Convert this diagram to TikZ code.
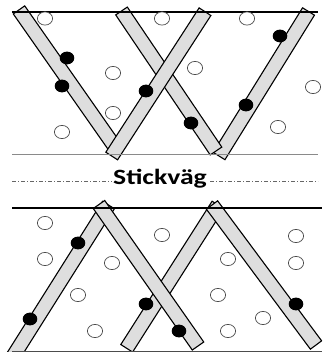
\documentclass[tikz,border=0pt]{standalone}
\usepackage{fontspec}
\usepackage{graphicx}
\newfontfamily\labelfont{Carlito}
\usetikzlibrary{calc}
\definecolor{stripgray}{HTML}{DEDEDE}
\definecolor{ringgray}{HTML}{4A4A4A}
\definecolor{rulegray}{HTML}{8A8A8A}
\tikzset{
  bar/.style={draw=black, line width=1.1pt, fill=stripgray, line join=miter},
  hole/.style={draw=ringgray, line width=0.7pt, fill=white},
  dot/.style={fill=black},
  edgeline/.style={draw=black, line width=1.1pt},
  floorline/.style={draw=rulegray, line width=0.9pt},
  roadline/.style={draw=black!60, line width=0.8pt, dash pattern=on 4pt off 2pt on 1pt off 2pt},
}
% a bar of width 2*7 along the centre line #1 -- #2
\newcommand\stripbar[2]{%
  \path[bar] ($(#1)!7pt!90:(#2)$) -- ($(#1)!7pt!-90:(#2)$)
    -- ($(#2)!7pt!90:(#1)$) -- ($(#2)!7pt!-90:(#1)$) -- cycle;}
\begin{document}
\begin{tikzpicture}[x=1pt, y=-1pt]
\useasboundingbox (0,0) rectangle (322,352);
\clip (0,0) rectangle (322,352);
\fill[white] (0,0) rectangle (322,352);

% upper field: a W of four bars
\coordinate (s1a) at (19,9.9);    \coordinate (s1b) at (115,147);
\coordinate (s2a) at (111.7,156); \coordinate (s2b) at (205,11.7);
\coordinate (s3a) at (121.5,11);  \coordinate (s3b) at (216,151);
\coordinate (s4a) at (219,156);   \coordinate (s4b) at (308.5,11.5);
\stripbar{s1a}{s1b}
\stripbar{s4a}{s4b}
\stripbar{s3a}{s3b}
\stripbar{s2a}{s2b}

\coordinate (u1) at (12,12);  \coordinate (u2) at (318,12);
\coordinate (v1) at (12,154); \coordinate (v2) at (318,154);
\draw[edgeline] (u1) -- (u2);
\draw[floorline] (v1) -- (v2);

\foreach \x/\y in {45/18.5,162/18.5,247/18.5,113/73,195/68,313/87,113/113,62/132,278/127}
  {\path[hole] (\x,\y) ellipse [x radius=7.6pt, y radius=6.6pt];}
\foreach \x/\y in {67/58,62/86,146/91,191/123,246/105,280/36}
  {\path[dot] (\x,\y) ellipse [x radius=7.3pt, y radius=6.4pt];}

% road marking
\coordinate (r1) at (12,181); \coordinate (r2) at (318,181);
\draw[roadline] (r1) -- (r2);
\node[fill=white, inner sep=1pt, anchor=base] (road) at (160,185)
  {\scalebox{1.27}[1]{\labelfont\bfseries\fontsize{21.8}{22}\selectfont Stickväg}};

% lower field: two peaks of four bars
\coordinate (aa) at (4.5,370);    \coordinate (ab) at (108.5,205);
\coordinate (ba) at (99,204.5);   \coordinate (bb) at (198,346);
\coordinate (ca) at (126.7,348.3);\coordinate (cb) at (218,205);
\coordinate (da) at (212,205);    \coordinate (db) at (316,345);
\stripbar{aa}{ab}
\stripbar{ca}{cb}
\stripbar{da}{db}
\stripbar{ba}{bb}

\coordinate (w1) at (12,208); \coordinate (w2) at (322,208);
\coordinate (z1) at (12,351); \coordinate (z2) at (322,351);
\draw[edgeline] (w1) -- (w2);
\draw[floorline, draw=black!70] (z1) -- (z2);

\foreach \x/\y in {45/223,45/259,112/263,78/295,95/331,162/235,228/259,218/295,228/331,263/318,296/236,296/263}
  {\path[hole] (\x,\y) ellipse [x radius=7.6pt, y radius=6.6pt];}
\foreach \x/\y in {78/243,30/319,146/304,179/331,296/304}
  {\path[dot] (\x,\y) ellipse [x radius=7.3pt, y radius=6.4pt];}
\end{tikzpicture}
\end{document}
